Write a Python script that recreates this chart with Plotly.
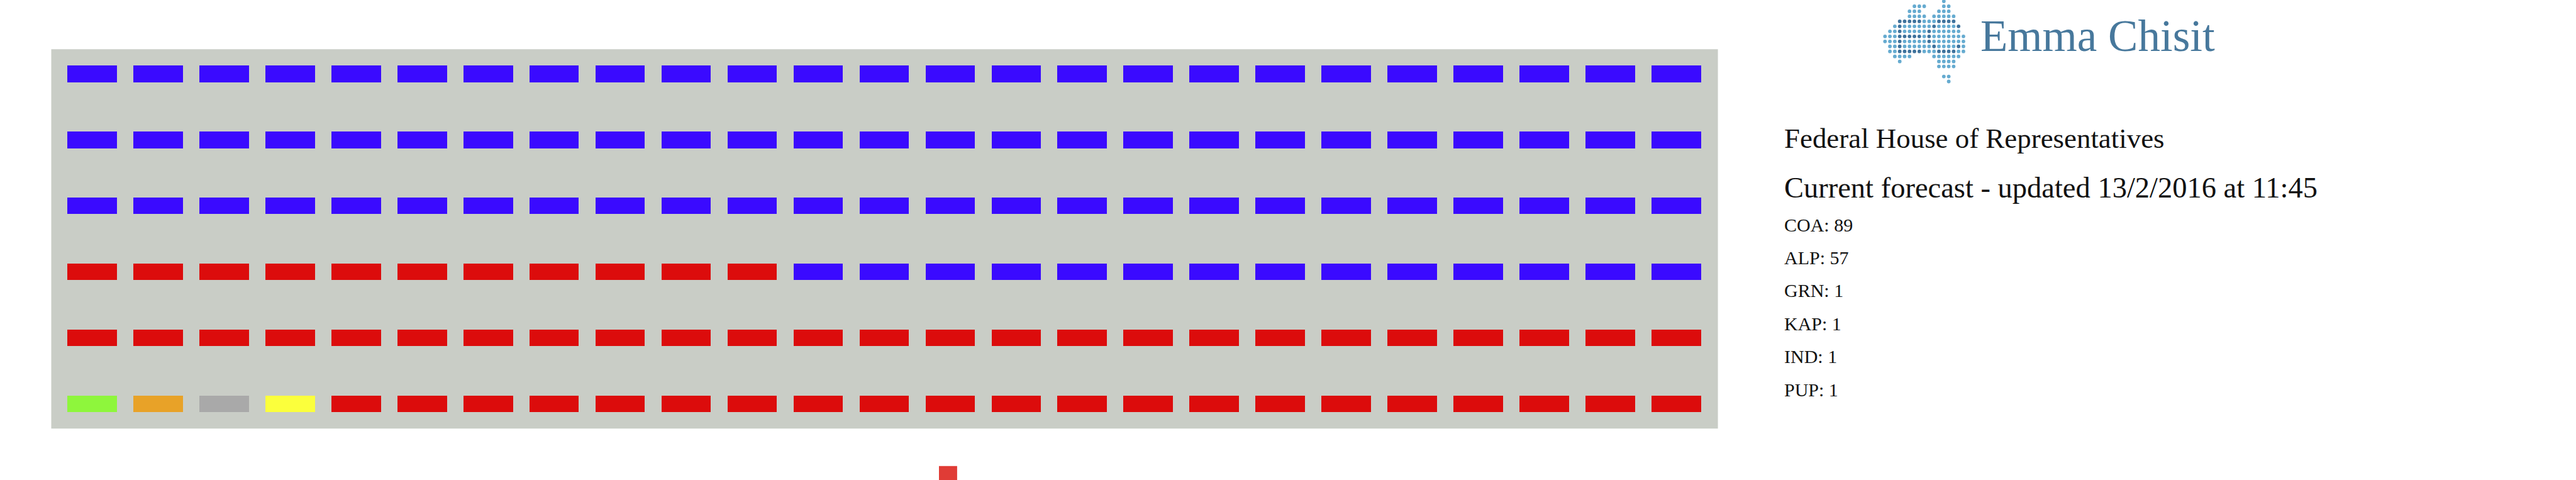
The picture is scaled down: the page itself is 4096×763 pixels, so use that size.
import plotly.graph_objects as go

W, H = 4609, 859
S = 4096 / 4609

# Seats, filled row by row from the bottom left
parties = ["GRN", "KAP", "IND", "PUP", "ALP", "COA"]
seat_counts = [1, 1, 1, 1, 57, 89]
party_colours = ["#8ef63c", "#e8a228", "#a9a9a9", "#fbff3c", "#dc0c0c", "#3a0aff"]
n_cols = 25
n_rows = 6

# Text
logo_word = "Emma Chisit"
title_lines = ["Federal House of Representatives",
               "Current forecast - updated 13/2/2016 at 11:45"]
tally_labels = ["COA", "ALP", "GRN", "KAP", "IND", "PUP"]
tally_values = [89, 57, 1, 1, 1, 1]

# Logo dot map: (start, end) column spans per row
logo_spans = [
    [(12, 12)], [(6, 8), (12, 13)], [(5, 7), (11, 13)], [(5, 8), (10, 14)],
    [(3, 14)], [(2, 15)], [(1, 15)], [(0, 16)], [(0, 16)], [(1, 16)], [(1, 16)],
    [(2, 5), (10, 15)], [(3, 3), (11, 14)], [(11, 14)], [], [(12, 13)], [(13, 13)],
]
logo_dark = [
    [], [], [], [],
    [(3, 7), (11, 14)], [(3, 3), (10, 10), (15, 15)], [(3, 3), (9, 9)],
    [(3, 7), (9, 9)], [(3, 3), (9, 9)], [(3, 3), (10, 10), (15, 15)],
    [(3, 7), (11, 14)], [], [], [], [], [], [],
]


def fx(px):
    return px / W


def fy(py):
    return 1 - py / H


fig = go.Figure()

# Seat chart
order = []
for p, c in zip(parties, seat_counts):
    order += [p] * c
for p, colour in zip(parties, party_colours):
    idx = [i for i, o in enumerate(order) if o == p]
    fig.add_trace(go.Bar(
        x=[i % n_cols for i in idx],
        y=[0.254] * len(idx),
        base=[i // n_cols - 0.127 for i in idx],
        width=0.75,
        marker=dict(color=colour, line=dict(width=0)),
        name=p,
        showlegend=False,
    ))

# Logo
def in_spans(c, spans):
    return any(a <= c <= b for a, b in spans)


lx, ly, dx, dy = [], [], [], []
for r, spans in enumerate(logo_spans):
    for a, b in spans:
        for c in range(a, b + 1):
            if in_spans(c, logo_dark[r]):
                dx.append(c); dy.append(r)
            else:
                lx.append(c); ly.append(r)
for xs, ys, colour in [(lx, ly, "#66abd0"), (dx, dy, "#3f729c")]:
    fig.add_trace(go.Scatter(
        x=xs, y=ys, mode="markers", xaxis="x2", yaxis="y2", showlegend=False,
        marker=dict(symbol="circle", size=6.5 * S, color=colour, line=dict(width=0)),
    ))

hidden = dict(visible=False, showgrid=False, zeroline=False, fixedrange=True)
fig.update_layout(
    width=4096, height=763,
    margin=dict(l=0, r=0, t=0, b=0),
    paper_bgcolor="white",
    plot_bgcolor="white",
    barmode="overlay",
    bargap=0,
    xaxis=dict(hidden, domain=[fx(91.7), fx(3073.7)], range=[-0.623, 24.625]),
    yaxis=dict(hidden, domain=[fy(767), fy(88)], range=[-0.374, 5.375]),
    xaxis2=dict(hidden, domain=[fx(3360), fx(3530)], range=[-1.448, 17.94], anchor="y2"),
    yaxis2=dict(hidden, domain=[fy(165), fy(0)], range=[18.14, -0.256], anchor="x2"),
    shapes=[
        dict(type="rect", xref="paper", yref="paper", layer="below",
             x0=fx(91.7), x1=fx(3073.7), y0=fy(767), y1=fy(88),
             fillcolor="#c9cdc6", line=dict(width=0)),
        dict(type="rect", xref="paper", yref="paper", layer="above",
             x0=fx(1680), x1=fx(1712.5), y0=0, y1=fy(834),
             fillcolor="#e03c36", line=dict(width=0)),
    ],
)

SERIF = "Liberation Serif"


def label(text, px, py, size, colour="#111111"):
    fig.add_annotation(text=text, x=fx(px), y=fy(py), xref="paper", yref="paper",
                       xanchor="left", yanchor="middle", showarrow=False,
                       borderpad=0, borderwidth=0,
                       font=dict(family=SERIF, size=size, color=colour))


label(logo_word, 3543, 64, 71, "#47789c")
label(title_lines[0], 3192, 248, 44.9)
label(title_lines[1], 3192, 336, 46.5)
tally_y = [402, 461, 520, 579, 638, 697]
for name, value, y in zip(tally_labels, tally_values, tally_y):
    label(f"{name}: {value}", 3192, y, 30)

fig.write_html("out.html", config=dict(displayModeBar=False),
               post_script="document.body.style.margin='0';document.body.style.overflow='hidden';")
